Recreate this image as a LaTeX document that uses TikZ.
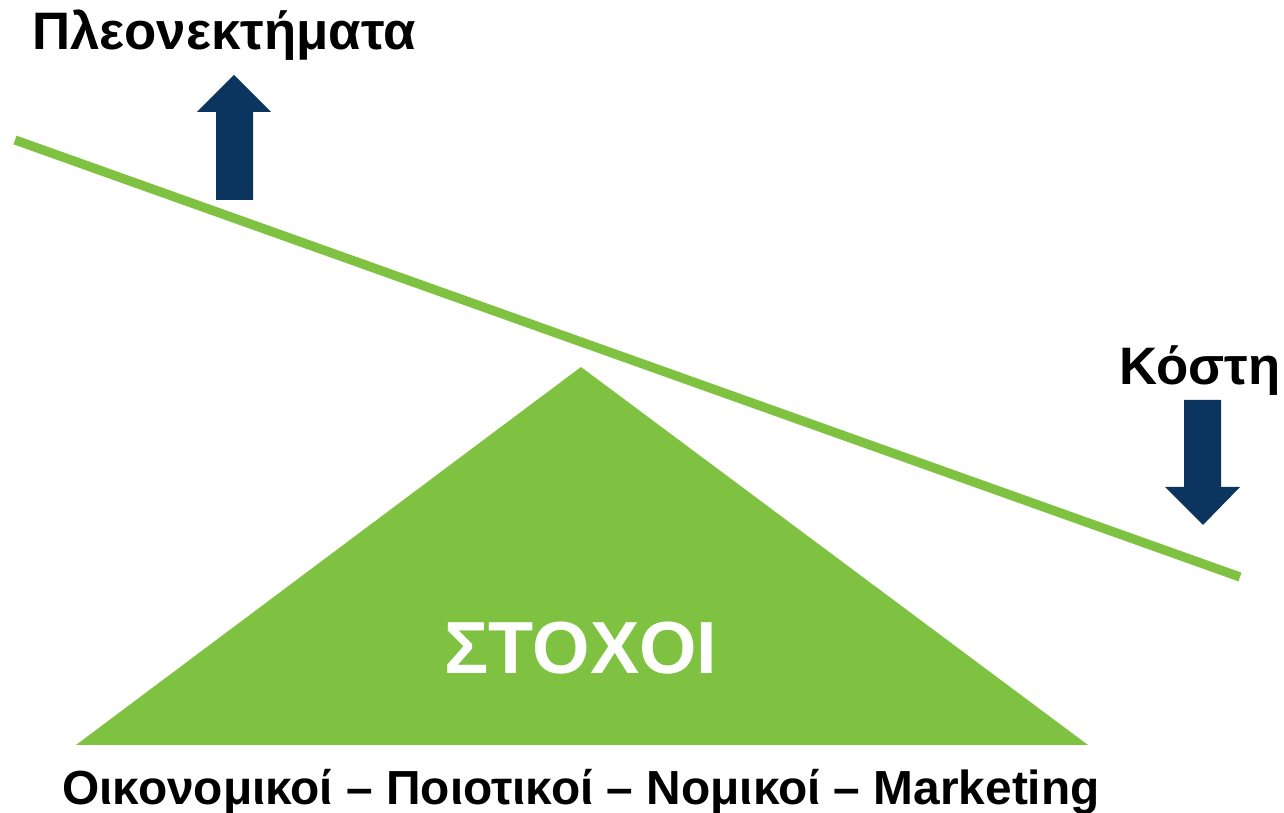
\documentclass[tikz,border=0pt]{standalone}
\usepackage{fontspec}
\setmainfont{Liberation Sans}
\usepackage{tikz}
\definecolor{LeafGreen}{RGB}{127,194,65}
\definecolor{DeepBlue}{RGB}{11,53,95}

\begin{document}
\begin{tikzpicture}[x=0.01cm,y=-0.01cm,
    lbl/.style={inner sep=0pt,anchor=base,font=\bfseries\fontsize{15}{18}\selectfont}]
      \useasboundingbox (0,0) rectangle (1284,813);
      % beam and pivot
      \fill[LeafGreen] (76,745)--(581,367)--(1088,745)--cycle;
      \draw[LeafGreen,line width=0.092cm] (15,140)--(1240,577);
      % arrows
      \fill[DeepBlue] (216,200)--(216,112)--(197,112)--(234,75)--(271,112)--(253,112)--(253,200)--cycle;
      \fill[DeepBlue] (1184,400)--(1221,400)--(1221,487)--(1240,487)--(1203,525)--(1165,487)--(1184,487)--cycle;
      % labels
      \node[lbl] (plus) at (224,50) {Πλεονεκτήματα};
      \node[lbl] (minus) at (1200,385) {Κόστη};
      \node[lbl,text=white,font=\bfseries\fontsize{21}{24}\selectfont] (goals) at (581,674) {ΣΤΟΧΟΙ};
      \node[lbl,font=\bfseries\fontsize{13.6}{16}\selectfont] (kinds) at (581,805) {Οικονομικοί – Ποιοτικοί – Νομικοί – Marketing};
\end{tikzpicture}
\end{document}
